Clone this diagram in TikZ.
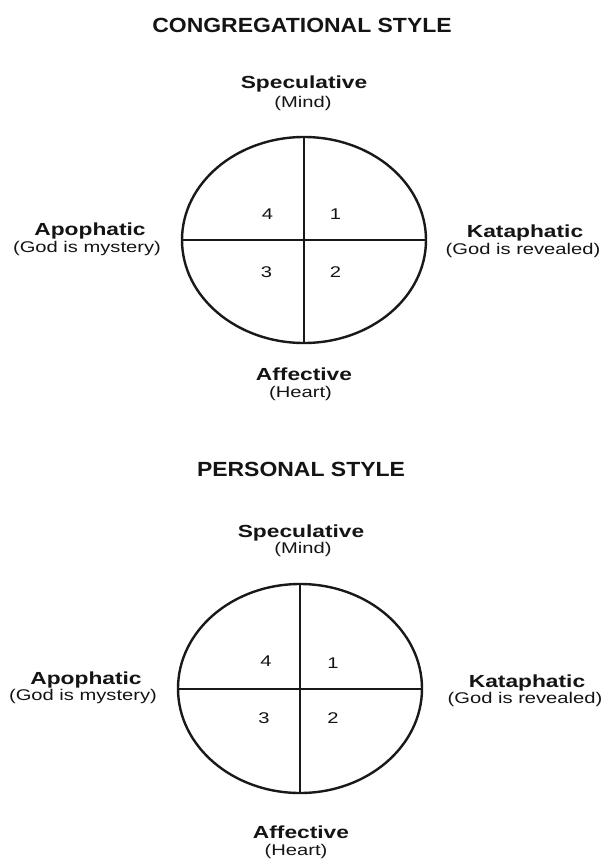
\documentclass[tikz,border=0pt]{standalone}
\usepackage{fontspec}
\setmainfont{Liberation Sans}
\newfontfamily\titlefont[FakeStretch=1.12]{Liberation Sans}
\newfontfamily\labelfont[FakeStretch=1.3]{Liberation Sans}
\usetikzlibrary{shapes.geometric}
\begin{document}
\begin{tikzpicture}[x=1pt,y=-1pt,
  every node/.style={inner sep=0pt,outer sep=0pt,anchor=base,text=black!92},
  titletext/.style={font=\titlefont\bfseries\fontsize{20.5}{24}\selectfont},
  headtext/.style={font=\labelfont\bfseries\fontsize{17.5}{20}\selectfont},
  subtext/.style={font=\labelfont\fontsize{15.5}{18}\selectfont},
  numtext/.style={font=\labelfont\fontsize{15.5}{18}\selectfont},
  quad/.style={draw=black!90,ellipse,line width=2.4pt,minimum width=244pt,minimum height=206pt,anchor=center},
  axisline/.style={draw=black!90,line width=2pt}]
\useasboundingbox[fill=white] (0,0) rectangle (603,862);

% ---------- Congregational style ----------
\node[titletext] (t1) at (302,32) {CONGREGATIONAL STYLE};
\node[headtext] (s1) at (304,88) {Speculative};
\node[subtext] (m1) at (303,107) {(Mind)};
\node[quad] (e1) at (304,240) {};
\draw[axisline] (e1.north) -- (e1.south);
\draw[axisline] (e1.west) -- (e1.east);
\node[numtext] (n4a) at (267.5,219.5) {4};
\node[numtext] (n1a) at (335.5,219.5) {1};
\node[numtext] (n3a) at (266.5,277) {3};
\node[numtext] (n2a) at (335.5,277) {2};
\node[headtext] (ap1) at (90,235) {Apophatic};
\node[subtext] (gm1) at (87,252) {(God is mystery)};
\node[headtext] (ka1) at (525,237.5) {Kataphatic};
\node[subtext] (gr1) at (523,254) {(God is revealed)};
\node[headtext] (af1) at (304,380) {Affective};
\node[subtext] (h1) at (300.5,397.5) {(Heart)};

% ---------- Personal style ----------
\node[titletext] (t2) at (301,476) {PERSONAL STYLE};
\node[headtext] (s2) at (301,537) {Speculative};
\node[subtext] (m2) at (303,553.5) {(Mind)};
\node[quad,minimum height=209pt] (e2) at (300,688.5) {};
\draw[axisline] (e2.north) -- (e2.south);
\draw[axisline] (e2.west) -- (e2.east);
\node[numtext] (n4b) at (266,666.5) {4};
\node[numtext] (n1b) at (333,668) {1};
\node[numtext] (n3b) at (264,723.5) {3};
\node[numtext] (n2b) at (333,723.5) {2};
\node[headtext] (ap2) at (86,684) {Apophatic};
\node[subtext] (gm2) at (83,700) {(God is mystery)};
\node[headtext] (ka2) at (527,687) {Kataphatic};
\node[subtext] (gr2) at (525,703) {(God is revealed)};
\node[headtext] (af2) at (301,838.5) {Affective};
\node[subtext] (h2) at (296,855.5) {(Heart)};
\end{tikzpicture}
\end{document}
